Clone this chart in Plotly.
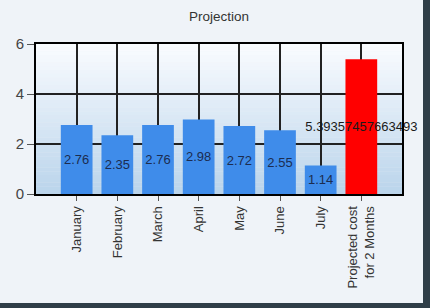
import plotly.graph_objects as go

categories = ["January", "February", "March", "April", "May", "June", "July",
              "Projected cost<br>for 2 Months"]
values = [2.76, 2.35, 2.76, 2.98, 2.72, 2.55, 1.14, 5.39357457663493]
bar_colors = ["#3f8cea"] * 7 + ["#ff0000"]
text_colors = ["#1c2c50"] * 7 + ["#1a1a1a"]
labels = [str(v) for v in values]
y_ticks = [0, 2, 4, 6]

W, H = 430, 308
L, R, T, B = 36, 28, 44, 114

fig = go.Figure()
fig.add_trace(go.Bar(
    x=categories, y=values, width=0.78,
    marker=dict(color=bar_colors, line=dict(width=0)),
    text=labels, textposition="inside", insidetextanchor="middle",
    textangle=0,
    textfont=dict(family="Liberation Sans, Arial", size=13, color=text_colors),
    cliponaxis=False,
))

# vertical gradient background of the plot area (style only)
shapes = []
n = 40
top = (250, 252, 255)
bot = (186, 212, 235)
for i in range(n):
    f = (i + 0.5) / n
    c = tuple(int(round(top[k] + (bot[k] - top[k]) * f)) for k in range(3))
    shapes.append(dict(type="rect", xref="x domain", yref="y domain",
                       x0=0, x1=1, y0=1 - (i + 1) / n, y1=1 - i / n + 0.001,
                       fillcolor="rgb(%d,%d,%d)" % c, line=dict(width=0),
                       layer="below"))
pw, ph = W - L - R, H - T - B
def px(x):
    return (x - L) / pw
def py(y):
    return (H - B - y) / ph
shapes.append(dict(type="rect", xref="paper", yref="paper",
                   x0=px(423), x1=px(431), y0=py(309), y1=py(-1),
                   fillcolor="#2f3e48", line=dict(width=0), layer="above"))
shapes.append(dict(type="rect", xref="paper", yref="paper",
                   x0=px(-1), x1=px(431), y0=py(309), y1=py(303),
                   fillcolor="#2f3e48", line=dict(width=0), layer="above"))

fig.update_layout(
    width=W, height=H,
    margin=dict(l=L, r=R, t=T, b=B),
    paper_bgcolor="#eff3f8",
    plot_bgcolor="#eff3f8",
    showlegend=False,
    bargap=0.22,
    uniformtext=dict(minsize=13, mode="show"),
    title=dict(text="Projection", x=0.5, xref="paper", y=1 - 16 / H,
               yanchor="middle", xanchor="center",
               font=dict(family="Liberation Sans, Arial", size=13.5, color="#333333")),
    shapes=shapes,
    font=dict(family="Liberation Sans, Arial"),
)
fig.update_xaxes(
    range=[-1, 8], showgrid=True, gridcolor="#222222", gridwidth=1.5,
    showline=True, linecolor="#000000", linewidth=2, mirror=True,
    ticks="outside", ticklen=5, tickcolor="#555555", tickwidth=1,
    tickangle=-90, tickfont=dict(size=13, color="#333333"),
)
fig.update_yaxes(
    range=[0, 6], tickvals=y_ticks, showgrid=True, gridcolor="#222222", gridwidth=1.5,
    showline=True, linecolor="#000000", linewidth=2, mirror=True,
    ticks="outside", ticklen=7, tickcolor="#555555", tickwidth=1,
    tickfont=dict(size=15, color="#444444"), zeroline=False,
)

fig.write_html("out.html")
